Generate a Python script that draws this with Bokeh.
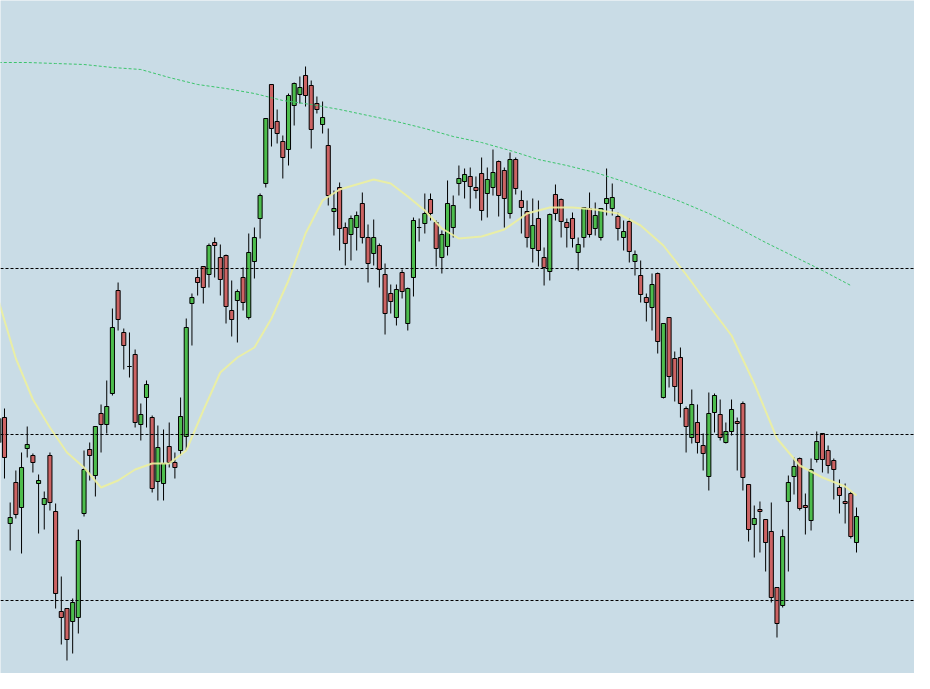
from bokeh.plotting import figure
from bokeh.models import Range1d, Span, ColumnDataSource
from bokeh.embed import file_html
from bokeh.resources import INLINE

# ---------------- data (price in points) ----------------
first_index = -1
opens = [258, 283, 177, 218, 193, 252, 245, 217, 196, 245, 189,
         89, 92, 79, 83, 187, 251, 225, 287, 276, 307,
         410, 368, 334, 346, 276, 303, 283, 219, 217, 254,
         238, 250, 264, 397, 423, 434, 426, 458, 443, 445,
         390, 400, 423, 383, 439, 482, 517, 616, 579, 559,
         551, 595, 606, 625, 615, 597, 576, 555, 489, 513,
         473, 466, 473, 497, 463, 447, 455, 426, 407, 383,
         428, 377, 423, 473, 477, 501, 478, 443, 454, 473,
         517, 519, 524, 513, 527, 507, 513, 539, 530, 487,
         541, 500, 489, 452, 482, 443, 429, 506, 501, 478,
         482, 448, 463, 492, 472, 463, 497, 492, 484, 463,
         479, 439, 425, 403, 393, 427, 303, 383, 342, 343,
         292, 263, 278, 255, 224, 288, 286, 258, 269, 279,
         297, 216, 176, 191, 181, 169, 113, 95, 199, 224,
         242, 195, 180, 241, 267, 250, 240, 213, 199, 207,
         158]
closes = [282, 243, 183, 186, 233, 256, 238, 220, 202, 198, 107,
          83, 61, 98, 160, 231, 245, 274, 276, 294, 373,
          381, 355, 334, 278, 286, 316, 212, 253, 237, 238,
          233, 284, 373, 403, 418, 413, 455, 455, 421, 394,
          381, 409, 398, 448, 463, 505, 582, 572, 567, 543,
          605, 617, 613, 605, 571, 591, 583, 505, 492, 472,
          457, 482, 485, 463, 437, 463, 431, 387, 399, 411,
          409, 412, 480, 473, 487, 487, 452, 466, 497, 495,
          522, 526, 514, 510, 490, 521, 528, 505, 502, 541,
          512, 493, 463, 475, 450, 433, 486, 487, 479, 473,
          462, 456, 493, 466, 485, 492, 502, 503, 472, 469,
          449, 446, 406, 398, 416, 359, 377, 324, 314, 297,
          274, 296, 258, 247, 287, 305, 263, 269, 291, 277,
          223, 171, 182, 189, 158, 103, 77, 164, 218, 234,
          192, 193, 231, 259, 241, 235, 231, 205, 197, 164,
          184]
highs = [290, 292, 198, 230, 248, 274, 247, 226, 209, 248, 197,
         124, 92, 102, 171, 250, 258, 274, 296, 320, 392,
         418, 372, 368, 351, 297, 320, 285, 275, 271, 278,
         248, 303, 382, 407, 431, 434, 457, 463, 456, 446,
         420, 411, 433, 467, 473, 507, 582, 616, 591, 565,
         607, 618, 624, 634, 620, 604, 599, 572, 510, 518,
         478, 485, 489, 508, 476, 481, 457, 437, 416, 416,
         431, 413, 483, 482, 507, 507, 480, 470, 520, 505,
         535, 532, 533, 524, 543, 533, 551, 540, 533, 548,
         543, 510, 500, 502, 500, 453, 487, 516, 502, 482,
         488, 463, 493, 508, 498, 492, 532, 517, 488, 480,
         482, 450, 440, 407, 427, 428, 377, 383, 349, 353,
         294, 311, 296, 267, 308, 307, 301, 278, 301, 283,
         299, 216, 195, 199, 181, 198, 113, 171, 225, 243,
         243, 207, 242, 269, 267, 255, 242, 221, 217, 209,
         193]
lows = [248, 222, 150, 182, 147, 243, 228, 167, 171, 190, 92,
        56, 40, 47, 67, 184, 220, 204, 248, 267, 305,
        370, 331, 323, 273, 260, 273, 208, 200, 200, 233,
        222, 245, 250, 355, 405, 397, 413, 423, 405, 377,
        364, 358, 390, 381, 422, 462, 513, 554, 557, 522,
        535, 575, 597, 594, 552, 587, 567, 495, 465, 450,
        435, 440, 450, 457, 418, 435, 413, 366, 387, 375,
        402, 370, 404, 459, 467, 480, 434, 427, 445, 463,
        505, 502, 492, 502, 480, 483, 505, 484, 473, 482,
        506, 467, 453, 438, 434, 415, 420, 480, 463, 453,
        453, 430, 453, 463, 465, 460, 485, 485, 460, 450,
        438, 425, 398, 379, 370, 347, 302, 313, 299, 283,
        248, 257, 247, 230, 210, 268, 260, 257, 265, 230,
        210, 159, 143, 148, 129, 98, 63, 93, 129, 206,
        190, 166, 170, 238, 228, 227, 201, 187, 177, 162,
        148]

levels = [432, 266, 100]

slow_ma_idx = [-1, 4, 9, 14, 19, 24, 29, 34, 39, 44, 49, 54, 59, 64, 69, 74,
               79, 84, 89, 94, 99, 104, 109, 114, 119, 124, 129, 134, 139, 144, 149]
slow_ma = [638, 638, 637, 636, 633, 631, 623, 616, 612, 607, 600, 596, 591, 585, 579, 572,
           564, 558, 550, 541, 535, 528, 519, 509, 499, 487, 473, 458, 444, 430, 415]

fast_ma_idx = [-1, 2, 5, 8, 11, 14, 17, 20, 23, 26, 29, 32, 35, 38, 41, 44, 47, 50, 53, 56,
               59, 62, 65, 68, 71, 74, 77, 80, 84, 88, 92, 96, 100, 104, 108, 112, 116, 120,
               124, 128, 132, 136, 140, 144, 148, 150]
fast_ma = [399, 342, 301, 273, 248, 233, 213, 220, 231, 237, 237, 250, 290, 328, 343, 353,
           382, 420, 467, 500, 511, 516, 521, 517, 504, 490, 472, 462, 464, 471, 487, 493,
           493, 491, 487, 475, 455, 426, 395, 365, 317, 262, 235, 223, 214, 205]

# ---------------- styling ----------------
BG = "#c9dce6"
UP = "#4dbd4d"
DOWN = "#cc6363"

bar_idx = list(range(first_index, first_index + len(opens)))
tops = [max(o, c) for o, c in zip(opens, closes)]
bottoms = [min(o, c) for o, c in zip(opens, closes)]
colors = [UP if c >= o else DOWN for o, c in zip(opens, closes)]

src = ColumnDataSource(dict(x=bar_idx, high=highs, low=lows, top=tops,
                            bottom=bottoms, color=colors))

p = figure(width=914, height=673, output_backend="svg", toolbar_location=None,
           x_axis_type=None, y_axis_type=None,
           x_range=Range1d(-0.704, 160.21), y_range=Range1d(27, 700),
           background_fill_color=BG, border_fill_color=BG,
           outline_line_color=None, min_border=0)
p.min_border_left = 0
p.min_border_right = 0
p.min_border_top = 0
p.min_border_bottom = 0
p.grid.visible = False

p.segment(x0="x", y0="low", x1="x", y1="high", source=src,
          line_color="black", line_width=1)
p.vbar(x="x", width=0.72, top="top", bottom="bottom", source=src,
       fill_color="color", line_color="black", line_width=1)

for lvl in levels:
    p.add_layout(Span(location=lvl, dimension="width", line_color="black",
                      line_dash="3 2", line_width=1))

p.line(slow_ma_idx, slow_ma, line_color="#3cc46c", line_dash="3 2", line_width=1)
p.line(fast_ma_idx, fast_ma, line_color="#ecf09e", line_width=2, line_alpha=0.9)

open("out.html", "w").write(file_html(p, INLINE))
